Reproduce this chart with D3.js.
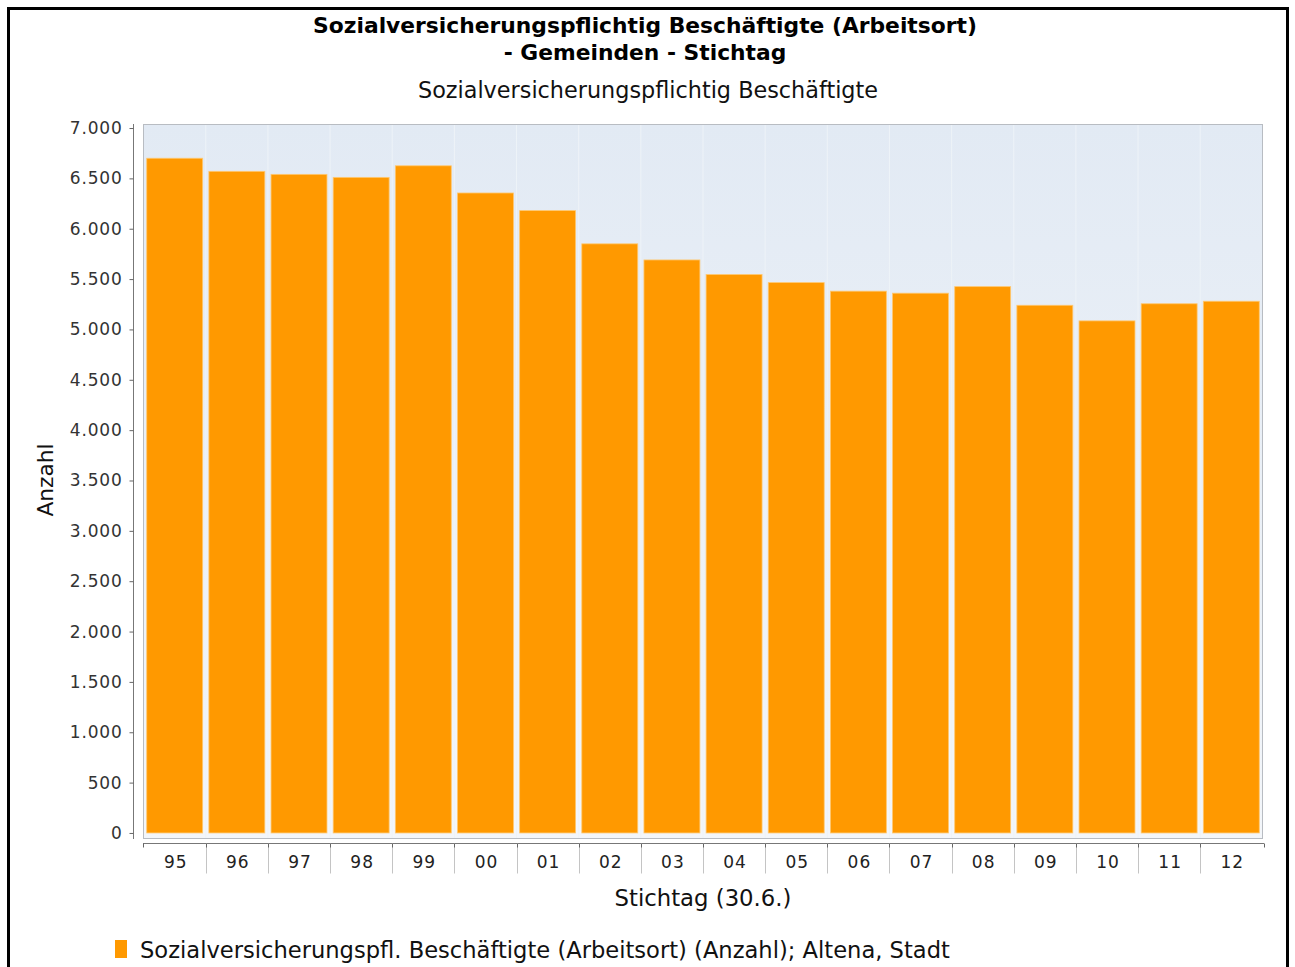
<!DOCTYPE html>
<html>
<head>
<meta charset="utf-8">
<script src="https://cdn.jsdelivr.net/npm/d3@7"></script>
<style>
  html, body { margin: 0; padding: 0; background: #fff; }
  svg { display: block; }
</style>
</head>
<body>
<svg id="chart" width="1295" height="967"></svg>
<script>
const categories = ["95","96","97","98","99","00","01","02","03","04","05","06","07","08","09","10","11","12"];
const values = [6700, 6570, 6540, 6510, 6625, 6355, 6180, 5850, 5690, 5545, 5465, 5380, 5360, 5425, 5240, 5085, 5255, 5280];
const yTicks = [0, 500, 1000, 1500, 2000, 2500, 3000, 3500, 4000, 4500, 5000, 5500, 6000, 6500, 7000];
const titleLines = ["Sozialversicherungspflichtig Beschäftigte (Arbeitsort)", "- Gemeinden - Stichtag"];
const subtitle = "Sozialversicherungspflichtig Beschäftigte";
const yLabel = "Anzahl";
const xLabel = "Stichtag (30.6.)";
const legendLabel = "Sozialversicherungspfl. Beschäftigte (Arbeitsort) (Anzahl); Altena, Stadt";

const svg = d3.select("#chart");
const FONT = "'DejaVu Sans', sans-serif";
const fmt = d3.formatLocale({decimal: ",", thousands: ".", grouping: [3], currency: ["", "€"]}).format(",d");

const plot = {left: 143, right: 1263, top: 124, bottom: 839};

// outer frame
svg.append("rect").attr("x", 8.5).attr("y", 8.5).attr("width", 1279).attr("height", 980)
  .attr("fill", "none").attr("stroke", "#000").attr("stroke-width", 3);

function fitText(sel, target) {
  const node = sel.node();
  const w = node.getComputedTextLength();
  const fs = parseFloat(sel.attr("font-size"));
  sel.attr("font-size", (fs * target / w).toFixed(2));
}

// titles
const t1 = svg.append("text").attr("x", 645).attr("y", 25).attr("text-anchor", "middle")
  .attr("dominant-baseline", "central").attr("font-family", FONT).attr("font-weight", "bold")
  .attr("font-size", 20).attr("fill", "#000").text(titleLines[0]);
fitText(t1, 664);
const t2 = svg.append("text").attr("x", 645).attr("y", 52).attr("text-anchor", "middle")
  .attr("dominant-baseline", "central").attr("font-family", FONT).attr("font-weight", "bold")
  .attr("font-size", t1.attr("font-size")).attr("fill", "#000").text(titleLines[1]);
const st = svg.append("text").attr("x", 648).attr("y", 90).attr("text-anchor", "middle")
  .attr("dominant-baseline", "central").attr("font-family", FONT)
  .attr("font-size", 20).attr("fill", "#111").text(subtitle);
fitText(st, 460);

// scales
const x = d3.scaleBand().domain(categories).range([plot.left, plot.right]).paddingInner(0.1).paddingOuter(0.06);
const y = d3.scaleLinear().domain([-60, 7040]).range([plot.bottom, plot.top]);

// plot background
const defs = svg.append("defs");
const grad = defs.append("linearGradient").attr("id", "bg").attr("x1", 0).attr("y1", 0).attr("x2", 0).attr("y2", 1);
grad.append("stop").attr("offset", "0%").attr("stop-color", "#e2eaf4");
grad.append("stop").attr("offset", "100%").attr("stop-color", "#f3f6fa");
svg.append("rect").attr("x", plot.left).attr("y", plot.top)
  .attr("width", plot.right - plot.left).attr("height", plot.bottom - plot.top)
  .attr("fill", "url(#bg)");

// faint category gridlines
const step = x.step();
const bounds = categories.slice(1).map(c => x(c) - step * x.paddingInner() / 2);
svg.append("g").selectAll("line").data(bounds).join("line")
  .attr("x1", d => d).attr("x2", d => d).attr("y1", plot.top).attr("y2", plot.bottom)
  .attr("stroke", "#eef3f8").attr("stroke-width", 1);

// bars
svg.append("g").selectAll("rect").data(values).join("rect")
  .attr("x", (d, i) => x(categories[i]))
  .attr("y", d => y(d))
  .attr("width", x.bandwidth())
  .attr("height", d => y(0) - y(d))
  .attr("fill", "#ff9900")
  .attr("stroke", "#ffc870").attr("stroke-width", 0.8);

// plot border
svg.append("rect").attr("x", plot.left + 0.5).attr("y", plot.top + 0.5)
  .attr("width", plot.right - plot.left - 1).attr("height", plot.bottom - plot.top - 1)
  .attr("fill", "none").attr("stroke", "#b8bcc2").attr("stroke-width", 1);

// y axis
const yAxis = d3.axisLeft(y).tickValues(yTicks).tickFormat(fmt).tickSize(4).tickPadding(7);
const gy = svg.append("g").attr("transform", "translate(133.5,0)").call(yAxis);
gy.select(".domain").attr("d", `M0,${plot.top}V${plot.bottom}`).attr("stroke", "#777");
gy.selectAll(".tick line").attr("stroke", "#666");
gy.selectAll(".tick text").attr("font-family", FONT).attr("font-size", 17)
  .attr("letter-spacing", 0.8).attr("fill", "#333");

// x axis
const gx = svg.append("g").attr("transform", "translate(0,843.5)");
gx.append("line").attr("x1", plot.left).attr("x2", plot.right + 1).attr("y1", 0).attr("y2", 0).attr("stroke", "#777");
gx.selectAll("line.sep").data(bounds).join("line").attr("class", "sep")
  .attr("x1", d => Math.round(d) + 0.5).attr("x2", d => Math.round(d) + 0.5).attr("y1", 0).attr("y2", 30)
  .attr("stroke", "#c4c4c4");
gx.selectAll("line.tk").data([plot.left, ...bounds, plot.right + 1]).join("line").attr("class", "tk")
  .attr("x1", d => Math.round(d) + 0.5).attr("x2", d => Math.round(d) + 0.5).attr("y1", 0).attr("y2", 4)
  .attr("stroke", "#666");
gx.selectAll("text").data(categories).join("text")
  .attr("x", d => x(d) + x.bandwidth() / 2 + 1).attr("y", 18)
  .attr("text-anchor", "middle").attr("dominant-baseline", "central")
  .attr("font-family", FONT).attr("font-size", 17).attr("letter-spacing", 1).attr("fill", "#222")
  .text(d => d);

// axis labels
const yl = svg.append("text").attr("transform", "translate(45,480) rotate(-90)")
  .attr("text-anchor", "middle").attr("dominant-baseline", "central")
  .attr("font-family", FONT).attr("font-size", 19).attr("fill", "#111").text(yLabel);
fitText(yl, 73);
const xl = svg.append("text").attr("x", 703).attr("y", 898)
  .attr("text-anchor", "middle").attr("dominant-baseline", "central")
  .attr("font-family", FONT).attr("font-size", 19).attr("fill", "#111").text(xLabel);
fitText(xl, 177);

// legend
svg.append("rect").attr("x", 115).attr("y", 940).attr("width", 12).attr("height", 18).attr("fill", "#ff9900");
const lg = svg.append("text").attr("x", 140).attr("y", 950).attr("dominant-baseline", "central")
  .attr("font-family", FONT).attr("font-size", 19).attr("fill", "#111").text(legendLabel);
fitText(lg, 810);
</script>
</body>
</html>
